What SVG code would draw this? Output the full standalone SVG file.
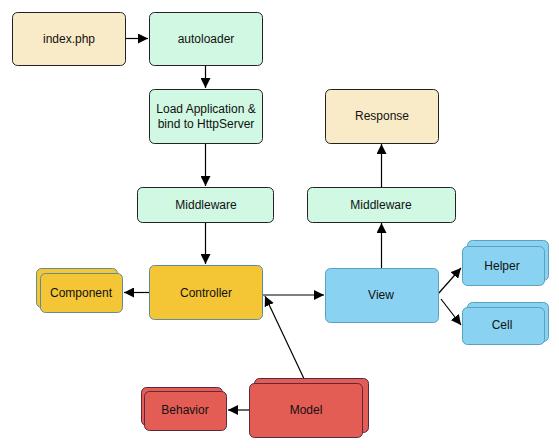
<svg xmlns="http://www.w3.org/2000/svg" width="559" height="448" viewBox="0 0 559 448">
<defs>
<marker id="ah" viewBox="0 0 10 10" refX="10" refY="5" markerWidth="10" markerHeight="10" markerUnits="userSpaceOnUse" orient="auto">
<path d="M0,0 L10,5 L0,10 z" fill="#000"/>
</marker>
<style>
text{font-family:"Liberation Sans",Arial,sans-serif;font-size:12px;fill:#111;text-anchor:middle;dominant-baseline:central}
.beige{fill:#f9ebc8;stroke:#222;stroke-width:1}
.mint{fill:#d0f8e3;stroke:#222;stroke-width:1}
.gold{fill:#f4c535;stroke:#5f8c9a;stroke-width:1}
.blue{fill:#89d2f2;stroke:#5c9fbf;stroke-width:1}
.red{fill:#e45d55;stroke:#5b2840;stroke-width:1}
.c{stroke:#000;stroke-width:1.2;fill:none;marker-end:url(#ah)}
</style>
</defs>
<rect width="559" height="448" fill="#fff"/>
<g id="connectors">
<line class="c" x1="126" y1="38.5" x2="148" y2="38.5"/>
<line class="c" x1="205.5" y1="65" x2="205.5" y2="88"/>
<line class="c" x1="205.5" y1="143" x2="205.5" y2="186"/>
<line class="c" x1="205.5" y1="223" x2="205.5" y2="264"/>
<line class="c" x1="149" y1="292.5" x2="124" y2="292.5"/>
<line class="c" x1="262" y1="295" x2="324" y2="295"/>
<line class="c" x1="306" y1="383" x2="265" y2="296"/>
<line class="c" x1="249" y1="410" x2="228" y2="410"/>
<line class="c" x1="381.5" y1="268" x2="381.5" y2="223"/>
<line class="c" x1="381.5" y1="187" x2="381.5" y2="144"/>
<line class="c" x1="438" y1="294" x2="461" y2="268"/>
<line class="c" x1="441" y1="299" x2="461" y2="325"/>
</g>
<g id="index"><rect class="beige" x="12.5" y="12.5" width="113" height="53" rx="5"/><text x="69" y="39">index.php</text></g>
<g id="autoloader"><rect class="mint" x="149.5" y="12.5" width="113" height="53" rx="5"/><text x="206" y="39">autoloader</text></g>
<g id="loadapp"><rect class="mint" x="149.5" y="89.5" width="113" height="54" rx="5"/><text x="206" y="109">Load Application &amp;</text><text x="206" y="124">bind to HttpServer</text></g>
<g id="middleware1"><rect class="mint" x="137.5" y="187.5" width="136" height="35" rx="5"/><text x="206" y="205">Middleware</text></g>
<g id="controller"><rect class="gold" x="149.5" y="265.5" width="113" height="54" rx="5"/><text x="206" y="293">Controller</text></g>
<g id="component"><rect class="gold" x="36.5" y="268.5" width="81" height="39" rx="5"/><rect class="gold" x="40.5" y="273.5" width="82" height="39" rx="5"/><text x="81" y="293">Component</text></g>
<g id="response"><rect class="beige" x="325.5" y="89.5" width="113" height="54" rx="5"/><text x="382" y="116">Response</text></g>
<g id="middleware2"><rect class="mint" x="307.5" y="187.5" width="148" height="35" rx="5"/><text x="381" y="205">Middleware</text></g>
<g id="view"><rect class="blue" x="325.5" y="268.5" width="113" height="54" rx="5"/><text x="381" y="295">View</text></g>
<g id="helper"><rect class="blue" x="467.5" y="240.5" width="81" height="40" rx="5"/><rect class="blue" x="462.5" y="246.5" width="82" height="39" rx="5"/><text x="502" y="266">Helper</text></g>
<g id="cell"><rect class="blue" x="467.5" y="302.5" width="81" height="39" rx="5"/><rect class="blue" x="462.5" y="307.5" width="82" height="37" rx="5"/><text x="502" y="325">Cell</text></g>
<g id="model"><rect class="red" x="254.5" y="378.5" width="114" height="54" rx="5"/><rect class="red" x="249.5" y="383.5" width="113" height="54" rx="5"/><text x="306" y="410">Model</text></g>
<g id="behavior"><rect class="red" x="141.5" y="387.5" width="81" height="38" rx="5"/><rect class="red" x="144.5" y="391.5" width="82" height="39" rx="5"/><text x="185" y="410">Behavior</text></g>
</svg>
